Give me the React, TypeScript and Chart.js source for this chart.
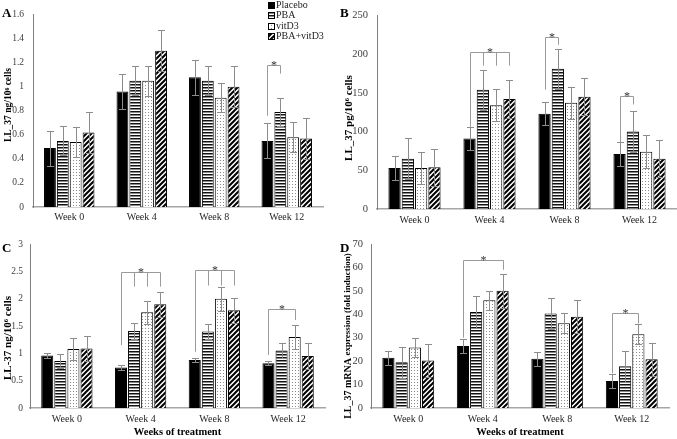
import React, { useEffect, useRef } from 'react';
import { Chart, registerables } from 'chart.js';

Chart.register(...registerables);

const FONT = '"Liberation Serif", "Times New Roman", serif';

const weeks = ['Week 0', 'Week 4', 'Week 8', 'Week 12'];
const groups = ['Placebo', 'PBA', 'vitD3', 'PBA+vitD3'];

// Panel A: LL-37 ng/10^6 cells
const placeboA = [0.49, 0.96, 1.08, 0.55];
const pbaA = [0.55, 1.05, 1.05, 0.79];
const vitD3A = [0.54, 1.05, 0.91, 0.58];
const comboA = [0.62, 1.3, 1.0, 0.57];
const placeboErrA = [0.145, 0.145, 0.146, 0.145];
const pbaErrA = [0.12, 0.12, 0.12, 0.12];
const vitD3ErrA = [0.125, 0.125, 0.12, 0.125];
const comboErrA = [0.17, 0.17, 0.17, 0.17];
const yTicksA = [0, 0.2, 0.4, 0.6, 0.8, 1, 1.2, 1.4, 1.6];
const bracketsA = [{ week: 3, bars: [0, 1], top: 1.18, ends: [0.76, 1.11] }];

// Panel B: LL-37 pg/10^6 cells
const placeboB = [53, 91, 123, 71];
const pbaB = [65, 154, 181, 100];
const vitD3B = [53, 134, 137, 74];
const comboB = [54, 142, 145, 65];
const placeboErrB = [15, 15, 15, 15];
const pbaErrB = [26, 26, 26, 26];
const vitD3ErrB = [21, 21, 21, 21];
const comboErrB = [24, 24, 24, 24];
const yTicksB = [0, 50, 100, 150, 200, 250];
const bracketsB = [
  { week: 1, bars: [0, 1, 2, 3], top: 202, ends: [106, 185, 185, 185] },
  { week: 2, bars: [0, 1], top: 222, ends: [154, 212] },
  { week: 3, bars: [0, 1], top: 146, ends: [86, 135] },
];

// Panel C: LL-37 ng/10^6 cells
const placeboC = [0.96, 0.74, 0.88, 0.82];
const pbaC = [0.86, 1.41, 1.4, 1.05];
const vitD3C = [1.08, 1.75, 2.0, 1.3];
const comboC = [1.09, 1.9, 1.79, 0.95];
const placeboErrC = [0.05, 0.05, 0.04, 0.04];
const pbaErrC = [0.13, 0.14, 0.13, 0.13];
const vitD3ErrC = [0.2, 0.21, 0.22, 0.22];
const comboErrC = [0.23, 0.23, 0.23, 0.23];
const yTicksC = [0, 0.5, 1, 1.5, 2, 2.5, 3];
const bracketsC = [
  { week: 1, bars: [0, 1, 2, 3], top: 2.48, ends: [1.15, 2.22, 2.22, 2.22] },
  { week: 2, bars: [0, 1, 2, 3], top: 2.52, ends: [1.03, 2.24, 2.24, 2.24] },
  { week: 3, bars: [0, 2], top: 1.81, ends: [0.97, 1.61] },
];

// Panel D: LL-37 mRNA expression (fold induction)
const placeboD = [21.5, 26.5, 21, 11.5];
const pbaD = [19.5, 41, 40.3, 17.8];
const vitD3D = [25.8, 46, 36.2, 31.5];
const comboD = [20.3, 50, 39, 20.8];
const placeboErrD = [3, 3, 3, 3];
const pbaErrD = [6.5, 6.7, 6.5, 6.5];
const vitD3ErrD = [4.2, 4.1, 4.2, 4.2];
const comboErrD = [7, 7.3, 7, 7];
const yTicksD = [0, 10, 20, 30, 40, 50, 60, 70];
const bracketsD = [
  { week: 1, bars: [0, 3], top: 63.2, ends: [30, 59] },
  { week: 3, bars: [0, 2], top: 40.4, ends: [14.8, 36.1] },
];

type Bracket = { week: number; bars: number[]; top: number; ends: number[] };
type Panel = {
  letter: string;
  left: number; top: number; w: number; h: number;
  pad: { left: number; top: number; right: number; bottom: number };
  yW: number; xH: number;
  values: number[][]; errs: number[][];
  yMax: number; yTicks: number[];
  tickSize: number; yTickPad: number; xTickPad: number;
  titleParts: { text: string; size: number }[];
  titleX: number; titleY: number;
  letterY: number;
  brackets: Bracket[];
  legend: boolean;
  xTitle: string;
};

const panels: Panel[] = [
  {
    letter: 'A', left: 0, top: 0, w: 338, h: 228,
    pad: { left: 0, top: 7, right: 15, bottom: 0 }, yW: 33, xH: 21,
    values: [placeboA, pbaA, vitD3A, comboA], errs: [placeboErrA, pbaErrA, vitD3ErrA, comboErrA],
    yMax: 1.6, yTicks: yTicksA, tickSize: 9.5, yTickPad: 9, xTickPad: 4,
    titleParts: [{ text: 'LL_37 ng/10⁶ cells', size: 9.5 }], titleX: 8.5, titleY: 105, letterY: 17,
    brackets: bracketsA, legend: true, xTitle: '',
  },
  {
    letter: 'B', left: 338, top: 0, w: 339, h: 228,
    pad: { left: 0, top: 8, right: 0, bottom: 0 }, yW: 39, xH: 19,
    values: [placeboB, pbaB, vitD3B, comboB], errs: [placeboErrB, pbaErrB, vitD3ErrB, comboErrB],
    yMax: 250, yTicks: yTicksB, tickSize: 10.5, yTickPad: 9, xTickPad: 5,
    titleParts: [{ text: 'LL_37 pg/10⁶ cells', size: 11 }], titleX: 11.5, titleY: 118, letterY: 17,
    brackets: bracketsB, legend: false, xTitle: '',
  },
  {
    letter: 'C', left: 0, top: 228, w: 338, h: 211,
    pad: { left: 0, top: 16, right: 13, bottom: 0 }, yW: 30, xH: 31,
    values: [placeboC, pbaC, vitD3C, comboC], errs: [placeboErrC, pbaErrC, vitD3ErrC, comboErrC],
    yMax: 3, yTicks: yTicksC, tickSize: 9.5, yTickPad: 7, xTickPad: 5,
    titleParts: [{ text: 'LL-37 ng/10⁶ cells', size: 11 }], titleX: 8.5, titleY: 110, letterY: 24,
    brackets: bracketsC, legend: false, xTitle: 'Weeks of treatment',
  },
  {
    letter: 'D', left: 338, top: 228, w: 339, h: 211,
    pad: { left: 0, top: 16, right: 8, bottom: 0 }, yW: 33, xH: 31,
    values: [placeboD, pbaD, vitD3D, comboD], errs: [placeboErrD, pbaErrD, vitD3ErrD, comboErrD],
    yMax: 70, yTicks: yTicksD, tickSize: 10.5, yTickPad: 8, xTickPad: 5,
    titleParts: [{ text: 'LL_37 mRNA ', size: 10 }, { text: 'expression (fold induction)', size: 9 }],
    titleX: 10, titleY: 108, letterY: 24,
    brackets: bracketsD, legend: false, xTitle: 'Weeks of treatment',
  },
];

function makeFill(kind: number): string | CanvasPattern {
  if (kind === 0) return '#000000';
  const c = document.createElement('canvas');
  const g = c.getContext('2d') as CanvasRenderingContext2D;
  if (kind === 1) {
    c.width = 4; c.height = 3;
    g.fillStyle = '#ffffff'; g.fillRect(0, 0, 4, 3);
    g.fillStyle = '#111111'; g.fillRect(0, 0, 4, 1);
    g.fillStyle = '#888888'; g.fillRect(0, 1, 4, 1);
  } else if (kind === 2) {
    c.width = 3; c.height = 3;
    g.fillStyle = '#ffffff'; g.fillRect(0, 0, 3, 3);
    g.fillStyle = '#8a8a8a'; g.fillRect(1, 1, 1, 1);
  } else {
    const s = 5;
    c.width = s; c.height = s;
    g.fillStyle = '#ffffff'; g.fillRect(0, 0, s, s);
    g.strokeStyle = '#000000'; g.lineWidth = 2;
    g.beginPath();
    g.moveTo(-1, s + 1); g.lineTo(s + 1, -1);
    g.moveTo(-1, 1); g.lineTo(1, -1);
    g.moveTo(s - 1, s + 1); g.lineTo(s + 1, s - 1);
    g.stroke();
  }
  return g.createPattern(c, 'repeat') as CanvasPattern;
}

function overlay(p: Panel, fills: (string | CanvasPattern)[]) {
  return {
    id: 'overlay' + p.letter,
    afterDatasetsDraw(chart: any) {
      const ctx: CanvasRenderingContext2D = chart.ctx;
      const ys = chart.scales.y;
      ctx.save();
      ctx.strokeStyle = '#8c8c8c';
      ctx.lineWidth = 1;
      p.values.forEach((vals, di) => {
        const meta = chart.getDatasetMeta(di);
        vals.forEach((v, i) => {
          const el = meta.data[i];
          const x = Math.round(el.x) + 0.5;
          const e = p.errs[di][i];
          const y1 = Math.round(ys.getPixelForValue(v + e)) + 0.5;
          const y2 = Math.round(ys.getPixelForValue(v - e)) + 0.5;
          ctx.beginPath();
          ctx.moveTo(x, y1); ctx.lineTo(x, y2);
          ctx.moveTo(x - 3.5, y1); ctx.lineTo(x + 3.5, y1);
          ctx.moveTo(x - 3.5, y2); ctx.lineTo(x + 3.5, y2);
          ctx.stroke();
        });
      });
      ctx.strokeStyle = '#9a9a9a';
      p.brackets.forEach((b) => {
        const xs = b.bars.map((di) => Math.round(chart.getDatasetMeta(di).data[b.week].x) + 0.5);
        const yt = Math.round(ys.getPixelForValue(b.top)) + 0.5;
        ctx.beginPath();
        ctx.moveTo(xs[0], yt); ctx.lineTo(xs[xs.length - 1], yt);
        xs.forEach((x, k) => { ctx.moveTo(x, yt); ctx.lineTo(x, ys.getPixelForValue(b.ends[k])); });
        ctx.stroke();
        ctx.fillStyle = '#333';
        ctx.font = '12px ' + FONT;
        ctx.textAlign = 'center';
        ctx.textBaseline = 'alphabetic';
        ctx.fillText('*', (xs[0] + xs[xs.length - 1]) / 2, yt + 3);
      });
      ctx.restore();
    },
    afterDraw(chart: any) {
      const ctx: CanvasRenderingContext2D = chart.ctx;
      ctx.save();
      ctx.fillStyle = '#000';
      ctx.font = 'bold 13px ' + FONT;
      ctx.textAlign = 'left';
      ctx.textBaseline = 'alphabetic';
      ctx.fillText(p.letter, 2, p.letterY);
      ctx.translate(p.titleX, p.titleY);
      ctx.rotate(-Math.PI / 2);
      ctx.textBaseline = 'middle';
      let total = 0;
      p.titleParts.forEach((t) => { ctx.font = `bold ${t.size}px ${FONT}`; total += ctx.measureText(t.text).width; });
      let cx = -total / 2;
      p.titleParts.forEach((t) => {
        ctx.font = `bold ${t.size}px ${FONT}`;
        ctx.fillText(t.text, cx, 0);
        cx += ctx.measureText(t.text).width;
      });
      ctx.restore();
      if (p.legend) {
        ctx.save();
        ctx.font = '10px ' + FONT;
        ctx.textBaseline = 'middle';
        ctx.textAlign = 'left';
        groups.forEach((name, i) => {
          const cy = 5.5 + i * 10.3;
          const bx = 268;
          ctx.fillStyle = fills[i] as any;
          ctx.fillRect(bx, Math.round(cy - 3.5), 7, 7);
          ctx.strokeStyle = '#000';
          ctx.lineWidth = 1;
          ctx.strokeRect(bx + 0.5, Math.round(cy - 3.5) + 0.5, 6, 6);
          ctx.fillStyle = '#222';
          ctx.fillText(name, 276, cy);
        });
        ctx.restore();
      }
    },
  };
}

function buildChart(canvas: HTMLCanvasElement, p: Panel) {
  const fills = [0, 1, 2, 3].map(makeFill);
  return new Chart(canvas, {
    type: 'bar',
    data: {
      labels: weeks,
      datasets: p.values.map((v, i) => ({
        label: groups[i],
        data: v,
        backgroundColor: fills[i] as any,
        borderColor: '#000000',
        borderWidth: 1,
        categoryPercentage: 0.71,
        barPercentage: 0.92,
      })),
    },
    options: {
      animation: false,
      responsive: false,
      maintainAspectRatio: false,
      devicePixelRatio: 1,
      layout: { autoPadding: false, padding: p.pad },
      plugins: { legend: { display: false }, tooltip: { enabled: false } },
      scales: {
        x: {
          grid: { display: false, drawTicks: false },
          border: { display: true, color: '#a6a6a6', width: 1.5 },
          ticks: { font: { family: FONT, size: 10 }, color: '#262626', padding: p.xTickPad, maxRotation: 0, autoSkip: false },
          title: {
            display: !!p.xTitle, text: p.xTitle, color: '#000',
            font: { family: FONT, size: 10.5, weight: 'bold' }, padding: { top: 0, bottom: 0 },
          },
          afterFit: (s: any) => { s.height = p.xH; },
        },
        y: {
          min: 0, max: p.yMax,
          grid: { display: false, drawTicks: false },
          border: { display: true, color: '#7f7f7f', width: 1 },
          ticks: {
            font: { family: FONT, size: p.tickSize }, color: '#404040', padding: p.yTickPad,
            callback: (v: any) => String(Number(v)),
          },
          afterBuildTicks: (s: any) => { s.ticks = p.yTicks.map((v) => ({ value: v })); },
          afterFit: (s: any) => { s.width = p.yW; },
        },
      },
    } as any,
    plugins: [overlay(p, fills)],
  });
}

export default function App() {
  const r0 = useRef<HTMLCanvasElement>(null);
  const r1 = useRef<HTMLCanvasElement>(null);
  const r2 = useRef<HTMLCanvasElement>(null);
  const r3 = useRef<HTMLCanvasElement>(null);
  const refs = [r0, r1, r2, r3];
  useEffect(() => {
    const charts = panels.map((p, i) => buildChart(refs[i].current as HTMLCanvasElement, p));
    return () => charts.forEach((c) => c.destroy());
  }, []);
  return (
    <div style={{ position: 'fixed', left: 0, top: 0, width: 677, height: 439, overflow: 'hidden', background: '#fff' }}>
      {panels.map((p, i) => (
        <canvas
          key={p.letter}
          ref={refs[i]}
          width={p.w}
          height={p.h}
          style={{ position: 'absolute', left: p.left, top: p.top, width: p.w, height: p.h }}
        />
      ))}
    </div>
  );
}
